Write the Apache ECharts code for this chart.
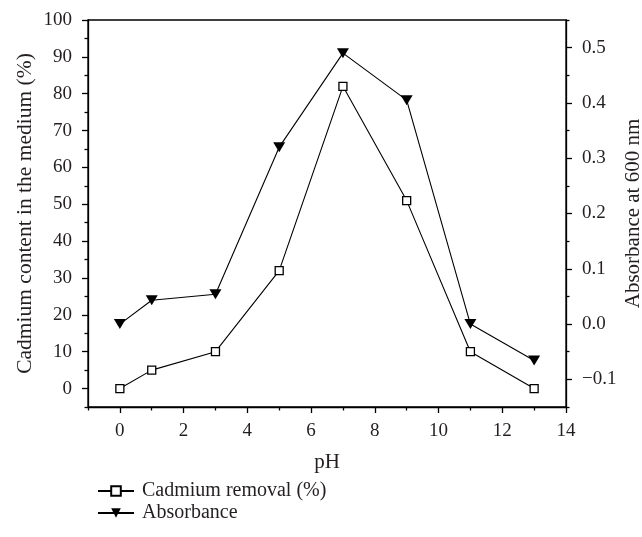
<!DOCTYPE html>
<html>
<head>
<meta charset="utf-8">
<script src="https://cdn.jsdelivr.net/npm/echarts@6/dist/echarts.min.js"></script>
<style>html,body{margin:0;padding:0;background:#fff}#c{width:642px;height:537px}</style>
</head>
<body>
<div id="c"></div>
<script>
// Data
var pH = [0, 1, 3, 5, 7, 9, 11, 13];
var cadmiumRemoval = [0, 5, 10, 32, 82, 51, 10, 0];
var absorbance = [0.0, 0.043, 0.054, 0.32, 0.49, 0.405, 0.0, -0.066];

// Tick labels / values
var xMajor = [0, 2, 4, 6, 8, 10, 12, 14];
var xMinor = [-1, 1, 3, 5, 7, 9, 11, 13];
var leftMajor = [0, 10, 20, 30, 40, 50, 60, 70, 80, 90, 100];
var leftMinor = [-5, 5, 15, 25, 35, 45, 55, 65, 75, 85, 95];
var rightMajor = [-0.1, 0, 0.1, 0.2, 0.3, 0.4, 0.5];
var rightMinor = [-0.15, -0.05, 0.05, 0.15, 0.25, 0.35, 0.45, 0.55];

var seriesNames = ['Cadmium removal (%)', 'Absorbance'];
var xName = 'pH';
var leftName = 'Cadmium content in the medium (%)';
var rightName = 'Absorbance at 600 nm';

var FONT = 'Liberation Serif';
var TXT = '#231f20';
var LINE = '#000';

function pairs(xs, ys) { return xs.map(function (x, i) { return [x, ys[i]]; }); }
function fmtRight(v) {
  var r = Math.round(v * 10) / 10;
  return (r < 0 ? '\u2212' : '') + Math.abs(r).toFixed(1);
}

var chart = echarts.init(document.getElementById('c'), null, {renderer: 'canvas'});

var lineStyleAxis = {color: LINE, width: 1.3};
var labelStyle = {fontFamily: FONT, fontSize: 19, color: TXT};

chart.setOption({
  animation: false,
  backgroundColor: '#fff',
  grid: {left: 88, right: 76, top: 20, bottom: 130, show: true, borderColor: LINE, borderWidth: 1.3,
         containLabel: false, outerBoundsMode: 'none'},
  legend: {
    data: seriesNames,
    orient: 'vertical',
    left: 92,
    top: 476,
    itemWidth: 36,
    itemHeight: 12,
    itemGap: 2,
    textStyle: {fontFamily: FONT, fontSize: 20, color: TXT, padding: [0, 0, 0, 3]}
  },
  xAxis: [
    {
      type: 'value', min: -1, max: 14, position: 'bottom',
      name: xName, nameLocation: 'middle', nameGap: 45, nameMoveOverlap: false,
      nameTextStyle: {fontFamily: FONT, fontSize: 21, color: TXT},
      axisLine: {show: true, onZero: false, lineStyle: lineStyleAxis},
      axisTick: {show: true, inside: false, length: 6, customValues: xMajor, lineStyle: lineStyleAxis},
      axisLabel: {show: true, margin: 15, customValues: xMajor, ...labelStyle},
      splitLine: {show: false}
    },
    {
      type: 'value', min: -1, max: 14, position: 'bottom', gridIndex: 0,
      axisLine: {show: false, onZero: false},
      axisTick: {show: true, inside: false, length: 3.5, customValues: xMinor, lineStyle: lineStyleAxis},
      axisLabel: {show: false},
      splitLine: {show: false}
    }
  ],
  yAxis: [
    {
      type: 'value', min: -5, max: 100, position: 'left',
      name: leftName, nameLocation: 'middle', nameGap: 52, nameRotate: 90, nameMoveOverlap: false,
      nameTextStyle: {fontFamily: FONT, fontSize: 21.5, color: TXT},
      axisLine: {show: true, onZero: false, lineStyle: lineStyleAxis},
      axisTick: {show: true, inside: false, length: 6, customValues: leftMajor, lineStyle: lineStyleAxis},
      axisLabel: {show: true, margin: 16, customValues: leftMajor, ...labelStyle},
      splitLine: {show: false}
    },
    {
      type: 'value', min: -5, max: 100, position: 'left',
      axisLine: {show: false, onZero: false},
      axisTick: {show: true, inside: false, length: 3.5, customValues: leftMinor, lineStyle: lineStyleAxis},
      axisLabel: {show: false},
      splitLine: {show: false}
    },
    {
      type: 'value', min: -0.15, max: 0.55, position: 'right',
      name: rightName, nameLocation: 'middle', nameGap: 57, nameRotate: 90, nameMoveOverlap: false,
      nameTextStyle: {fontFamily: FONT, fontSize: 21, color: TXT},
      axisLine: {show: true, onZero: false, lineStyle: lineStyleAxis},
      axisTick: {show: true, inside: false, length: 6, customValues: rightMajor, lineStyle: lineStyleAxis},
      axisLabel: {show: true, margin: 16, customValues: rightMajor, formatter: fmtRight, ...labelStyle},
      splitLine: {show: false}
    },
    {
      type: 'value', min: -0.15, max: 0.55, position: 'right',
      axisLine: {show: false, onZero: false},
      axisTick: {show: true, inside: false, length: 3.5, customValues: rightMinor, lineStyle: lineStyleAxis},
      axisLabel: {show: false},
      splitLine: {show: false}
    }
  ],
  series: [
    {
      name: seriesNames[0], type: 'line', xAxisIndex: 0, yAxisIndex: 0,
      data: pairs(pH, cadmiumRemoval),
      symbol: 'rect', symbolSize: 8,
      lineStyle: {color: LINE, width: 1.1},
      itemStyle: {color: '#fff', borderColor: LINE, borderWidth: 1.3},
      z: 3
    },
    {
      name: seriesNames[1], type: 'line', xAxisIndex: 0, yAxisIndex: 2,
      data: pairs(pH, absorbance),
      symbol: 'triangle', symbolRotate: 180, symbolSize: [12, 10],
      lineStyle: {color: LINE, width: 1.1},
      itemStyle: {color: LINE, borderColor: LINE, borderWidth: 0},
      z: 3
    }
  ]
});
</script>
</body>
</html>
